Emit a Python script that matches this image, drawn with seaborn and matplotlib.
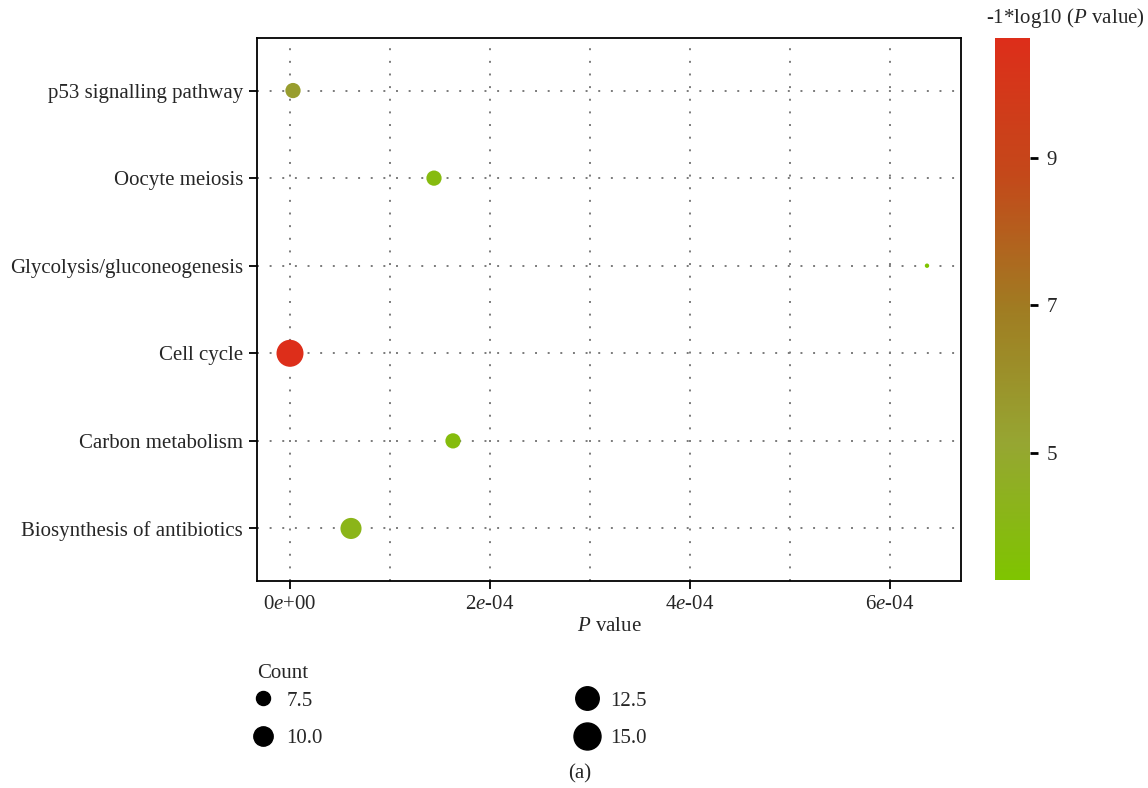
import numpy as np
import pandas as pd
import matplotlib
matplotlib.use("Agg")
import matplotlib.pyplot as plt
import seaborn as sns
from matplotlib.colors import LinearSegmentedColormap, Normalize
from matplotlib.cm import ScalarMappable
from matplotlib.ticker import FuncFormatter, MultipleLocator
from matplotlib.lines import Line2D

# ---- data ----
pathways = ["p53 signalling pathway", "Oocyte meiosis", "Glycolysis/gluconeogenesis",
            "Cell cycle", "Carbon metabolism", "Biosynthesis of antibiotics"]
p_values = [3.0e-6, 1.44e-4, 6.37e-4, 2.4e-11, 1.63e-4, 6.1e-5]
counts = [8, 8, 5, 15, 8, 11]
x_ticks = [0, 2e-4, 4e-4, 6e-4]
cbar_ticks = [5, 7, 9]
legend_counts = [7.5, 10.0, 12.5, 15.0]

df = pd.DataFrame({"Pathway": pathways, "P": p_values, "Count": counts})
df["logp"] = -np.log10(df["P"])

sns.set_style("white")
plt.rcParams["font.family"] = ["Liberation Serif", "DejaVu Serif"]
plt.rcParams["mathtext.fontset"] = "custom"
plt.rcParams["mathtext.it"] = "Liberation Serif:italic"
plt.rcParams["mathtext.rm"] = "Liberation Serif"

FS = 15

cmap = LinearSegmentedColormap.from_list(
    "gr", ["#7fc400", "#96a632", "#a07c22", "#c4481a", "#dd2e1a"])
hue_norm = Normalize(3.28, 10.62)
size_norm = (5, 15)
sizes = (10, 378)

fig = plt.figure(figsize=(11.48, 7.88), dpi=100)
ax = fig.add_axes([257/1148, 1-581/788, (961-257)/1148, (581-38)/788])

sns.scatterplot(data=df, x="P", y="Pathway", hue="logp", palette=cmap, hue_norm=hue_norm,
                size="Count", sizes=sizes, size_norm=size_norm, legend=False,
                edgecolor="none", ax=ax, zorder=3)

ax.set_xlim(-0.33e-4, 6.71e-4)
ax.set_ylim(5.6, -0.6)
ax.set_xticks(x_ticks)
ax.xaxis.set_minor_locator(MultipleLocator(1e-4))
ax.xaxis.set_major_formatter(FuncFormatter(
    lambda v, pos: ("%.0e" % v).replace("e", "$e$")))
grid_kw = dict(color="#7a7a7a", linestyle=(0, (1, 5.5)), linewidth=1.4)
ax.grid(True, which="both", axis="x", **grid_kw)
ax.grid(True, which="major", axis="y", **grid_kw)
ax.tick_params(axis="both", which="major", direction="out", length=6, width=1.3,
               color="black", labelsize=FS, pad=4, bottom=True, left=True)
ax.tick_params(axis="x", which="minor", length=0)
for s in ax.spines.values():
    s.set_color("black")
    s.set_linewidth(1.3)
ax.set_xlabel("$P$ value", fontsize=FS, labelpad=2)
ax.set_ylabel("")

# colorbar
cax = fig.add_axes([995/1148, 1-580/788, 35/1148, (580-38)/788])
sm = ScalarMappable(norm=hue_norm, cmap=cmap)
cb = fig.colorbar(sm, cax=cax)
cb.outline.set_visible(False)
cb.set_ticks(cbar_ticks)
cax.tick_params(length=6, width=2, color="black", labelsize=FS, pad=6)
fig.text(1065/1148, 1-18/788, "-1*log10 ($P$ value)", ha="center", va="center", fontsize=FS)

# size legend
def area(c):
    return sizes[0] + (c - size_norm[0]) / (size_norm[1] - size_norm[0]) * (sizes[1] - sizes[0])

handles = [Line2D([], [], linestyle="none", marker="o", color="black",
                  markersize=np.sqrt(area(c))) for c in legend_counts]
leg = fig.legend(handles, ["%.1f" % c for c in legend_counts], ncol=2,
                 loc="center left", bbox_to_anchor=(247/1148, 1-719.5/788), frameon=False,
                 fontsize=FS, columnspacing=11.9, handletextpad=0.4, borderpad=0,
                 borderaxespad=0, labelspacing=0.85, handlelength=1.5)
fig.text(257/1148, 1-674/788, "Count", ha="left", va="center", fontsize=FS)

fig.text(580/1148, 1-774/788, "(a)", ha="center", va="center", fontsize=FS)

fig.savefig("out.png", dpi=100)
